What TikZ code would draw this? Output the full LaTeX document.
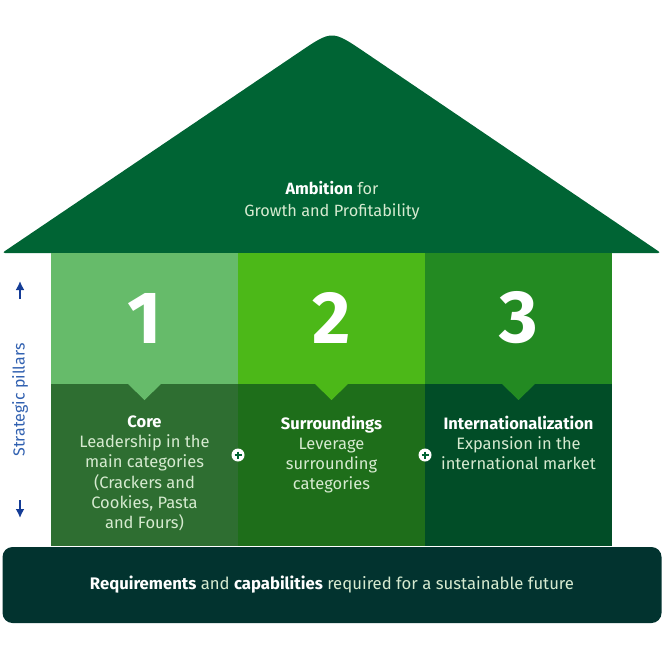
\documentclass[tikz,border=0pt]{standalone}
\usepackage{fontspec}
\setmainfont{Fira Sans}
\usepackage{tikz}
\usetikzlibrary{arrows.meta}
\definecolor{roofgreen}{RGB}{0, 100, 52}
\definecolor{basegreen}{RGB}{2, 51, 47}
\definecolor{lgreen}{RGB}{102, 187, 106}
\definecolor{lgreendark}{RGB}{46, 110, 49}
\definecolor{bgreen}{RGB}{76, 184, 24}
\definecolor{bgreendark}{RGB}{30, 110, 26}
\definecolor{mgreen}{RGB}{35, 138, 34}
\definecolor{mgreendark}{RGB}{1, 77, 39}
\definecolor{paleg}{RGB}{214, 234, 208}
\definecolor{pillarblue}{RGB}{48, 96, 176}
\definecolor{arrowblue}{RGB}{20, 60, 150}

\begin{document}
\begin{tikzpicture}[x = 1pt, y = -1pt,
	block/.style = {minimum width = 187pt, inner sep = 0pt, outer sep = 0pt},
	toppart/.style = {block, minimum height = 131pt},
	lowpart/.style = {block, minimum height = 162pt},
	num/.style = {inner sep = 0pt, text = white, font = \fontsize{74}{74}\selectfont\bfseries},
	txt/.style = {anchor = north, inner sep = 0pt, align = center, text = paleg, font = \fontsize{16.5}{20.2}\selectfont},
	plus/.style = {circle, fill = white, minimum size = 13pt, inner sep = 0pt},
	pluslines/.style = {roofgreen, line width = 2pt}]
			\useasboundingbox (0,0) rectangle (663,663);
			% roof
			\fill[roofgreen, rounded corners = 3pt] (2,253) -- (297,53.7) .. controls (332,30) .. (367,53.7) -- (661,253) -- cycle;
			\node (ambition) at (332,201) [align = center, text = paleg, font = \fontsize{16.3}{22}\selectfont] {\textcolor{white}{\textbf{Ambition}} for\\Growth and Profitability};
			% pillars
			\node (top1) at (144.5,318.5) [toppart, fill = lgreen] {};
			\node (top2) at (331.5,318.5) [toppart, fill = bgreen] {};
			\node (top3) at (518.5,318.5) [toppart, fill = mgreen] {};
			\node (low1) at (144.5,465) [lowpart, fill = lgreendark] {};
			\node (low2) at (331.5,465) [lowpart, fill = bgreendark] {};
			\node (low3) at (518.5,465) [lowpart, fill = mgreendark] {};
			\fill[lgreen] (127.5,383.5) -- (161.5,383.5) -- (144.5,400) -- cycle;
			\fill[bgreen] (314.5,383.5) -- (348.5,383.5) -- (331.5,400) -- cycle;
			\fill[mgreen] (501.5,383.5) -- (535.5,383.5) -- (518.5,400) -- cycle;
			\node (one) at (144.5,318) [num] {1};
			\node (two) at (331.5,318) [num] {2};
			\node (three) at (518.5,318) [num] {3};
			\node (core) at (144.5,415.5) [txt] {\textcolor{white}{\textbf{Core}}\\Leadership in the\\main categories\\(Crackers and\\Cookies, Pasta\\and Fours)};
			\node (surr) at (331.5,415.5) [txt] {\textcolor{white}{\textbf{Surroundings}}\\Leverage\\surrounding\\categories};
			\node (inter) at (518.5,415.5) [txt] {\textcolor{white}{\textbf{Internationalization}}\\Expansion in the\\international market};
			% plus signs
			\node (p1) at (238,455) [plus] {};
			\node (p2) at (425,455) [plus] {};
			\draw[pluslines] (p1.center) ++(-3.5,0) -- ++(7,0);
			\draw[pluslines] (p1.center) ++(0,-3.5) -- ++(0,7);
			\draw[pluslines] (p2.center) ++(-3.5,0) -- ++(7,0);
			\draw[pluslines] (p2.center) ++(0,-3.5) -- ++(0,7);
			% base
			\node (base) at (332,585) [rounded corners = 10pt, fill = basegreen, minimum width = 659pt, minimum height = 76pt, inner sep = 0pt, text = paleg, font = \fontsize{16.7}{18}\selectfont] {\textcolor{white}{\textbf{Requirements}} and \textcolor{white}{\textbf{capabilities}} required for a sustainable future};
			% axis
			\node (axis) at (20,400) [rotate = 90, text = pillarblue, font = \fontsize{16}{16}\selectfont] {Strategic pillars};
			\coordinate (up1) at (20,299);
			\coordinate (up2) at (20,281);
			\coordinate (down1) at (20,500);
			\coordinate (down2) at (20,518);
			\draw[arrowblue, line width = 2pt, -{Latex[length = 9pt, width = 9pt]}] (up1) -- (up2);
			\draw[arrowblue, line width = 2pt, -{Latex[length = 9pt, width = 9pt]}] (down1) -- (down2);
			\end{tikzpicture}
\end{document}
